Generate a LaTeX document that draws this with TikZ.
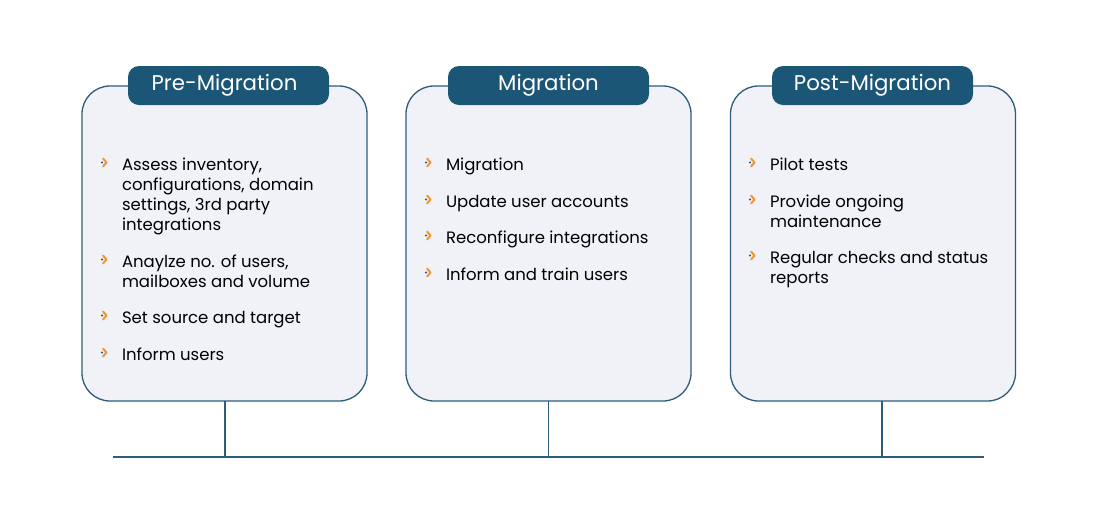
\documentclass[tikz,border=0pt]{standalone}
\usepackage{fontspec}
\setmainfont{Poppins}
\definecolor{hdr}{RGB}{27,86,118}
\definecolor{edge}{RGB}{45,93,123}
\definecolor{boxfill}{RGB}{241,242,247}
\definecolor{chev}{RGB}{238,150,52}
\definecolor{dotc}{RGB}{40,80,120}
\begin{document}
\begin{tikzpicture}[x=1pt,y=-1pt,
  panel/.style={draw=edge,line width=1.3pt,fill=boxfill,rounded corners=28pt,
    minimum width=285pt,minimum height=315pt,inner sep=0pt,outer sep=0pt},
  pill/.style={fill=hdr,rounded corners=11pt,minimum width=201pt,minimum height=39pt,
    inner sep=0pt,outer sep=0pt},
  hdrtext/.style={inner sep=0pt,outer sep=0pt,text=white,font=\fontsize{21.3}{25}\selectfont},
  item/.style={anchor=base west,inner sep=0pt,outer sep=0pt,font=\fontsize{16.5}{20}\selectfont,text=black},
  link/.style={draw=edge,line width=1.6pt}]
\useasboundingbox[fill=white] (0,0) rectangle (1097,523);
\newcommand\bulletmark[2]{%
  \draw[chev,line width=2pt,line cap=round,line join=round] (#1-19,#2-11.5) -- (#1-15.5,#2-7.5) -- (#1-19,#2-3.5);
  \fill[dotc] (#1-20,#2-7.5) circle (1.1pt);}
% panels
\node[panel] (b1) at (224.5,243.5) {};
\node[panel] (b2) at (548.5,243.5) {};
\node[panel] (b3) at (873,243.5) {};
% headers
\node[pill] (h1) at (228.5,85.5) {};
\node[pill] (h2) at (548.5,85.5) {};
\node[pill] (h3) at (872.5,85.5) {};
\node[hdrtext] (h1t) at (224.5,85.5) {Pre-Migration};
\node[hdrtext] (h2t) at (h2) {Migration};
\node[hdrtext] (h3t) at (h3) {Post-Migration};
% timeline
\coordinate (L) at (113,457);
\coordinate (R) at (984,457);
\coordinate (j1) at (225,457);
\coordinate (j2) at (548.5,457);
\coordinate (j3) at (882,457);
\draw[link] (L) -- (R);
\draw[link] (j1 |- b1.south) -- (j1);
\draw[link] (j2 |- b2.south) -- (j2);
\draw[link] (j3 |- b3.south) -- (j3);
% panel 1 items
\bulletmark{122}{170}
\node[item] (t11a) at (122,170) {Assess inventory,};
\node[item] (t11b) at (122,190) {configurations, domain};
\node[item] (t11c) at (122,210) {settings, 3rd party};
\node[item] (t11d) at (122,230) {integrations};
\bulletmark{122}{267}
\node[item] (t12a) at (122,267) {Anaylze no. of users,};
\node[item] (t12b) at (122,287) {mailboxes and volume};
\bulletmark{122}{323}
\node[item] (t13) at (122,323) {Set source and target};
\bulletmark{122}{360}
\node[item] (t14) at (122,360) {Inform users};
% panel 2 items
\bulletmark{446}{170}
\node[item] (t21) at (446,170) {Migration};
\bulletmark{446}{207}
\node[item] (t22) at (446,207) {Update user accounts};
\bulletmark{446}{243}
\node[item] (t23) at (446,243) {Reconfigure integrations};
\bulletmark{446}{280}
\node[item] (t24) at (446,280) {Inform and train users};
% panel 3 items
\bulletmark{770}{170}
\node[item] (t31) at (770,170) {Pilot tests};
\bulletmark{770}{207}
\node[item] (t32a) at (770,207) {Provide ongoing};
\node[item] (t32b) at (770,227) {maintenance};
\bulletmark{770}{263}
\node[item] (t33a) at (770,263) {Regular checks and status};
\node[item] (t33b) at (770,283) {reports};
\end{tikzpicture}
\end{document}
